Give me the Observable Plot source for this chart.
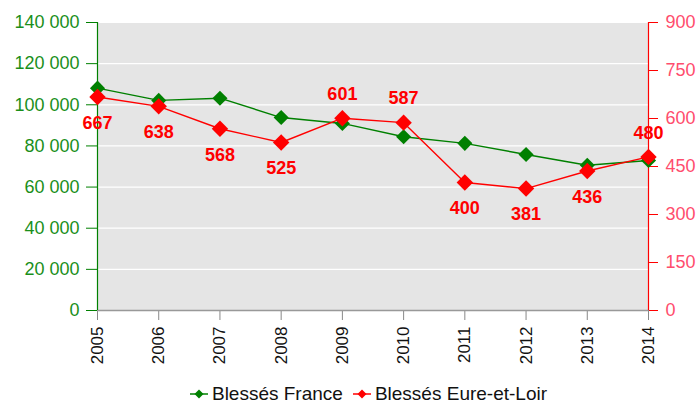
<!DOCTYPE html>
<html><head><meta charset="utf-8">
<script src="https://cdn.jsdelivr.net/npm/d3@7"></script>
<script src="https://cdn.jsdelivr.net/npm/@observablehq/plot@0.6"></script>
<style>
body{margin:0;background:#fff;font-family:"Liberation Sans",Arial,sans-serif;width:699px;height:405px;overflow:hidden;}
#legend{display:flex;justify-content:center;align-items:center;height:22px;padding-left:38px;font-size:19px;color:#111;}
.item{display:flex;align-items:center;margin:0 5px;}
.item svg{margin-right:4px;}
</style></head><body>
<div id="chart"></div>
<div id="legend"></div>
<script>
const years = [2005, 2006, 2007, 2008, 2009, 2010, 2011, 2012, 2013, 2014];
const blessesFrance = [108076, 102125, 103201, 93798, 90934, 84461, 81251, 75851, 70607, 72941];
const blessesEure = [667, 638, 568, 525, 601, 587, 400, 381, 436, 480];
const leftTicks = [0, 20000, 40000, 60000, 80000, 100000, 120000, 140000];
const rightTicks = [0, 150, 300, 450, 600, 750, 900];
const seriesNames = ["Blessés France", "Blessés Eure-et-Loir"];

const GREEN = "#008000", GREEN_TXT = "#1a8f1a", RED = "#ff0000", PINK_TXT = "#ff4d6d";
const k = 140000 / 900;
const fmt = d3.formatLocale({thousands: "\u00a0", grouping: [3], decimal: ","}).format(",");

const france = years.map((year, i) => ({year, value: blessesFrance[i]}));
const eure = years.map((year, i) => ({year, value: blessesEure[i], scaled: blessesEure[i] * k, above: blessesEure[i] * k > blessesFrance[i]}));

const chart = Plot.plot({
  width: 699, height: 383,
  marginLeft: 97, marginRight: 51, marginTop: 22, marginBottom: 73,
  style: {fontFamily: "Liberation Sans, Arial, sans-serif", fontSize: "18px", background: "white"},
  x: {domain: [2005, 2014], label: null},
  y: {domain: [0, 140000], label: null},
  marks: [
    Plot.frame({fill: "#e5e5e5", stroke: "none"}),
    Plot.gridY(leftTicks, {stroke: "white", strokeOpacity: 1, strokeWidth: 1.2}),
    Plot.axisY({anchor: "left", label: null, ticks: leftTicks, tickFormat: fmt, tickSize: 11, tickPadding: 7, stroke: GREEN, fill: GREEN_TXT, fontSize: 18}),
    Plot.axisY({anchor: "right", label: null, ticks: rightTicks.map(v => v * k), tickFormat: d => String(Math.round(d / k)), tickSize: 9, tickPadding: 8, stroke: RED, fill: PINK_TXT, fontSize: 18}),
    Plot.axisX({label: null, ticks: years, tickFormat: () => "", tickSize: 10, stroke: "#888"}),
    Plot.axisX({label: null, ticks: years, tickFormat: d => String(d), tickSize: 0, tickPadding: 16, tickRotate: -90, fill: "#111", fontSize: 17}),
    Plot.ruleY([0], {stroke: "#999", strokeWidth: 1.5}),
    Plot.ruleX([2005], {stroke: GREEN, strokeWidth: 1.2}),
    Plot.ruleX([2014], {stroke: RED, strokeWidth: 1.2}),
    Plot.line(france, {x: "year", y: "value", stroke: GREEN, strokeWidth: 1.4}),
    Plot.dot(france, {x: "year", y: "value", symbol: "diamond2", r: 6.8, fill: GREEN, stroke: "none"}),
    Plot.line(eure, {x: "year", y: "scaled", stroke: RED, strokeWidth: 1.4}),
    Plot.dot(eure, {x: "year", y: "scaled", symbol: "diamond2", r: 7.4, fill: RED, stroke: "none"}),
    Plot.text(eure.filter(d => d.above), {x: "year", y: "scaled", text: d => String(d.value), dy: -24, fill: RED, fontWeight: "bold", fontSize: 18}),
    Plot.text(eure.filter(d => !d.above), {x: "year", y: "scaled", text: d => String(d.value), dy: 26, fill: RED, fontWeight: "bold", fontSize: 18})
  ]
});
document.getElementById("chart").appendChild(chart);

const legend = document.getElementById("legend");
[[seriesNames[0], GREEN], [seriesNames[1], RED]].forEach(([name, c]) => {
  const item = document.createElement("div");
  item.className = "item";
  item.innerHTML = `<svg width="18" height="12"><line x1="0" y1="6" x2="18" y2="6" stroke="${c}" stroke-width="1.5"/><path d="M9,1.5 L13.5,6 L9,10.5 L4.5,6 Z" fill="${c}"/></svg><span>${name}</span>`;
  legend.appendChild(item);
});
</script>
</body></html>
